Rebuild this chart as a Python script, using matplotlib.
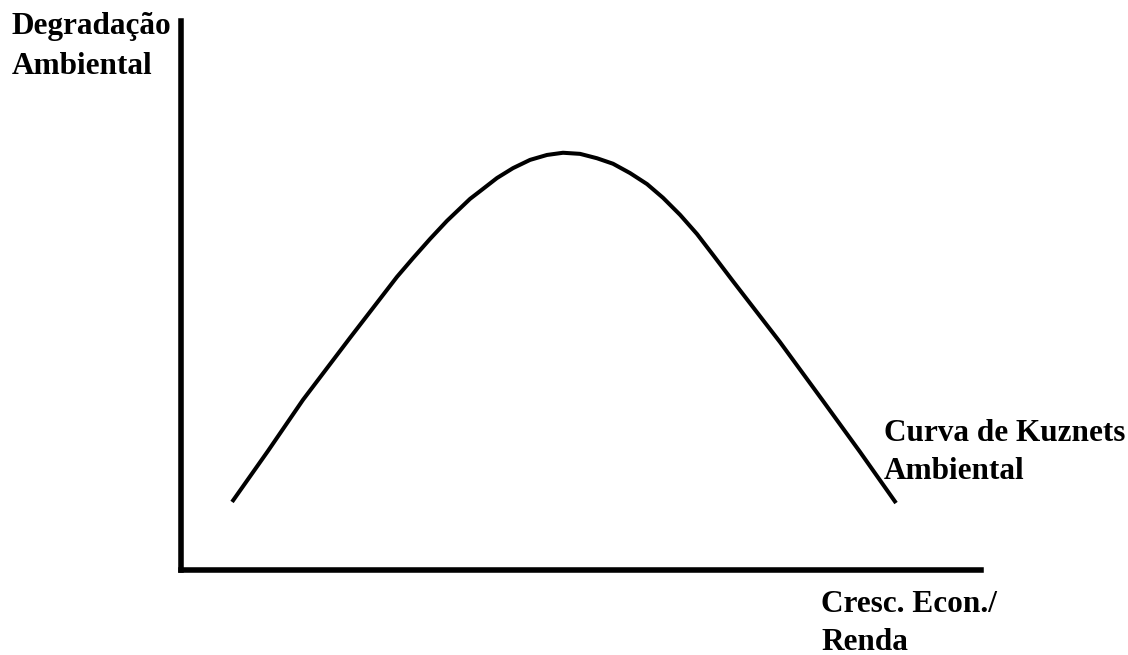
import matplotlib
matplotlib.use('Agg')
import matplotlib.pyplot as plt

# Curva de Kuznets Ambiental (leitura aproximada da figura)
renda = [6.38, 10.88, 15.25, 21.13, 27.0, 29.0, 31.13, 33.25, 36.13, 37.38,
         39.5, 41.5, 43.63, 45.75, 47.75, 49.88, 52.0, 54.0, 56.13, 58.25,
         60.25, 62.38, 64.5, 66.5, 69.0, 74.88, 80.25, 84.88, 89.38]
degradacao = [12.4, 21.7, 31.0, 42.3, 53.4, 56.8, 60.3, 63.6, 67.6, 69.0,
              71.4, 73.2, 74.7, 75.6, 76.0, 75.8, 75.0, 74.0, 72.3, 70.3,
              67.8, 64.7, 61.2, 57.4, 52.6, 41.5, 30.8, 21.5, 12.2]

label_y = "Degradação\nAmbiental"
label_x = "Cresc. Econ./\nRenda"
label_curva = "Curva de Kuznets\nAmbiental"

W, H = 1128, 655
fig = plt.figure(figsize=(W / 100, H / 100), dpi=100)
ax = fig.add_axes([181 / W, (H - 570) / H, 800 / W, 549 / H])

ax.plot(renda, degradacao, color='black', lw=2.9,
        solid_capstyle='butt', solid_joinstyle='round')

ax.set_xlim(0, 100)
ax.set_ylim(0, 100)
ax.spines['top'].set_visible(False)
ax.spines['right'].set_visible(False)
for s in ['left', 'bottom']:
    ax.spines[s].set_linewidth(4)
    ax.spines[s].set_color('black')
ax.set_xticks([])
ax.set_yticks([])

fonte = dict(family='Liberation Serif', fontweight='bold', fontsize=22.5,
             color='black', va='top', ha='left')
fig.text(12 / W, 1 - 12 / H, label_y, linespacing=1.5, **fonte)
fig.text(884 / W, 1 - 419 / H, label_curva, linespacing=1.4, **fonte)
fig.text(821 / W, 1 - 590 / H, label_x, linespacing=1.4, **fonte)

plt.savefig('out.png', dpi=100)
plt.close()
